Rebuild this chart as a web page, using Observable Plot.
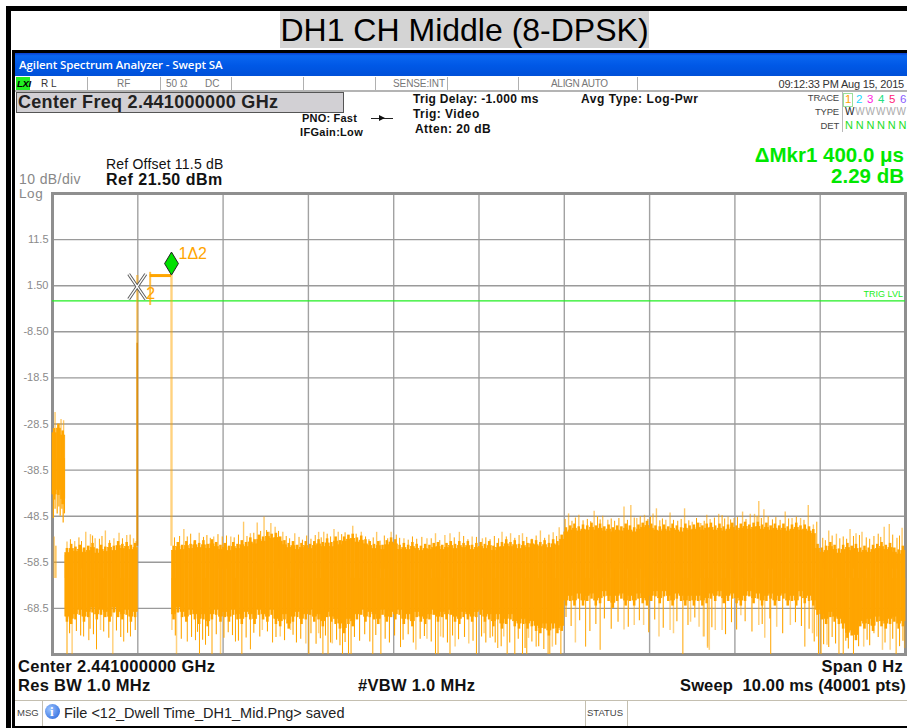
<!DOCTYPE html>
<html>
<head>
<meta charset="utf-8">
<script src="https://cdn.jsdelivr.net/npm/d3@7"></script>
<script src="https://cdn.jsdelivr.net/npm/@observablehq/plot@0.6"></script>
<style>
html,body{margin:0;padding:0;background:#fff;}
#page{position:relative;width:907px;height:728px;overflow:hidden;font-family:"Liberation Sans",Arial,sans-serif;color:#111;}
.b{position:absolute;}
.t{position:absolute;white-space:nowrap;transform:translateY(-50%);line-height:1;}
#page svg{position:absolute;left:0;top:186px;background:transparent;}
</style>
</head>
<body>
<div id="page"></div>
<script>
// ---- Chart values (time in ms, level in dBm) ----
const xGrid = [1,2,3,4,5,6,7,8,9];
const yGrid = [11.5,1.5,-8.5,-18.5,-28.5,-38.5,-48.5,-58.5,-68.5];
const yTickLabels = ["11.5","1.50","-8.50","-18.5","-28.5","-38.5","-48.5","-58.5","-68.5"];
const columnWidth = 0.05;
const envTop = [
-29.5,-28.5,-30,
-55.5,-54.6,-55.2,-54.8,-55.4,-55.0,-54.4,-55.6,-54.8,-55.2,-54.4,-55.0,-54.0,-54.6,-54.2,-54.8,-54.4,
null,null,null,null,null,null,null,null,
-55,-54.2,-54.8,-54,-54.6,-53.8,-54.4,-53.8,-54.6,-53.6,-54.2,-54.8,
-54.4,-55,-54.2,-54.6,-53.8,-54.2,-53.2,-53.6,-52.6,-53,
-52,-52.4,-52.2,-53,-53.8,-54.4,-54,-54.8,-54.4,-54,
-54.6,-54,-53.6,-54.2,-53.4,-54.2,-53,-53.8,-53,-52.6,
-52.4,-53.2,-52.8,-53.6,-54,-54.6,-54,-54.8,-53.8,-53.2,
-53.6,-54.8,-54.4,-54.8,-54.2,-54.6,-55,-54.6,-54.8,-54.4,
-54.2,-54.8,-54.4,-54,-54.6,-54,-54.4,-54,-54.8,-54.4,
-54.2,-54.6,-54,-55,-54.4,-54.2,-53.6,-54.2,-53.8,-54.6,
-54,-54.4,-53.6,-53.8,-54.2,-53.8,-54.4,-53.6,-54,-52.6,
-51,-50.6,-50.2,-50.8,-50.4,-50.6,-50,-50.6,-50.2,-50.8,
-50.4,-51,-50.6,-50.8,-50.2,-50.6,-51,-50.4,-50,-49.6,
-50.2,-50.6,-50.8,-50.4,-50.8,-50.2,-50.6,-51,-50.2,-50.6,
-50.4,-50,-50.6,-50.2,-50,-50.6,-50.2,-50.8,-50.4,-50,
-50.6,-50.2,-49.8,-50.4,-50,-49.8,-50.4,-50,-50.6,-50.2,
-50.6,-50.2,-50.8,-50.4,-50,-50.6,-50.4,-50.8,-51.4,-54.6,
-55.4,-55,-54.2,-54.8,-55.6,-54.8,-54.4,-55,-54.6,-55.4,
-55,-55.4,-54.8,-54.6,-54.2,-54.8,-54.4,-55.4,-55.8,-55];
const envBottom = [
-45,-44,-46,
-71.5,-72,-71,-70,-71.5,-70.5,-69.5,-71,-70,-70.5,-71.5,-69.5,-70.5,-71,-70,-71.5,-70.5,
null,null,null,null,null,null,null,null,
-71,-69.5,-70.5,-71.5,-70,-71,-72,-71,-72.5,-71,-70,-71.5,
-70.5,-71.5,-70,-71,-72,-70.5,-71,-72,-70,-71,
-71.5,-70,-72,-72.5,-71,-73,-71.5,-70.5,-72,-71,
-70,-71.5,-71,-72.5,-70.5,-71.5,-72,-73,-74,-72,
-72.5,-71,-70,-71.5,-70.5,-71,-72,-70,-71.5,-70.5,
-71,-70,-72,-71,-72.5,-70.5,-71.5,-72,-71,-70,
-71.5,-70.5,-71,-70,-71.5,-72,-70.5,-71,-71.5,-70.5,
-70,-71.5,-71,-72.5,-71,-73,-72,-71,-72.5,-73,
-72,-73,-72.5,-73.5,-74,-73,-74.5,-73,-74,-73.5,
-68,-67,-68,-66.5,-68,-67,-66.5,-68,-67.5,-66,
-67,-68.5,-67,-66.5,-68,-67,-68,-66.5,-67.5,-68,
-67,-66,-67.5,-66,-67,-68,-66.5,-67,-68,-67,
-68,-67,-68,-67.5,-66.5,-67,-66,-67.5,-67,-66.5,
-67.5,-68,-67,-66,-67.5,-66.5,-68,-67,-66.5,-68,
-67,-66.5,-68,-67,-68,-66,-67.5,-67,-68,-70,
-71,-72,-70.5,-71.5,-72,-73,-75,-74.5,-75.5,-72.5,
-73,-72,-73.5,-71.5,-72.5,-73,-72,-71.5,-73,-72.5];

const upT = [0.03,0.10,0.13,0.17,0.26,0.39,0.445,0.5,0.62,0.72,0.78,0.87,0.95,1.54,1.66,1.72,1.89,2.09,2.24,2.32,2.40,2.48,2.54,
2.56,2.61,2.70,2.84,3.12,3.18,3.30,3.35,3.47,3.52,3.62,3.80,3.97,4.12,4.39,4.49,4.60,4.66,4.77,4.92,5.04,
5.27,5.37,5.51,5.72,5.87,5.94,6.05,6.17,6.35,6.45,6.51,6.70,6.78,6.85,6.94,7.04,7.08,7.19,7.24,7.41,7.50,7.60,7.71,
7.67,7.81,7.92,7.99,8.09,8.18,8.23,8.28,8.34,8.59,8.67,8.77,8.86,8.92,9.10,9.19,9.35,9.42,9.49,9.75,9.81,9.96];
const upV = [-26,-27.5,-27.8,-54.1,-54,-52,-52.5,-53.4,-51.7,-53.4,-52.2,-52.7,-53.4,-51.4,-54.1,-52.2,-53,-53,-49.8,-52.3,-50,-48.7,-52,
-50.1,-50.9,-52,-52.3,-52,-52,-51.4,-52,-52.7,-50.7,-52,-52,-52,-53.4,-53.4,-52.3,-52.7,-52.3,-52,-53,-53.4,
-52,-52.3,-52.3,-51.7,-52.1,-51,-48,-48.3,-47.4,-48.5,-49.4,-46.5,-46.2,-49,-48.3,-48,-46.9,-49.4,-47.8,-46.9,-49.8,-50.1,-49.2,
-48.3,-48.1,-48.7,-49,-47.6,-48.1,-48.1,-45.3,-47.1,-47.6,-49,-49,-46.2,-50.4,-51.7,-52.4,-51.4,-52.3,-52,-50.9,-50.3,-51.1];
const upMoreT = [0.21,0.31,0.34,0.47,0.55,0.58,0.67,0.82,0.91,0.98,1.43,1.49,1.58,1.62,1.77,1.81,1.85,1.94,1.99,2.04,2.13,2.18,2.28,2.36,2.44,2.51,
2.65,2.74,2.78,2.89,2.93,2.98,3.03,3.08,3.15,3.22,3.26,3.39,3.43,3.56,3.67,3.71,3.76,3.84,3.89,3.93,4.03,4.07,4.17,4.22,4.27,4.33,4.44,4.54,4.71,4.82,4.87,4.97,
5.08,5.13,5.18,5.23,5.32,5.42,5.47,5.56,5.62,5.67,5.77,5.82,5.91,
6.01,6.09,6.13,6.22,6.27,6.31,6.39,6.42,6.55,6.59,6.64,6.74,6.82,6.89,6.98,7.01,7.12,7.15,7.28,7.33,7.37,7.46,7.55,7.64,7.76,7.85,7.88,7.95,
8.03,8.13,8.26,8.31,8.39,8.44,8.48,8.53,8.63,8.72,8.81,8.96,9.03,9.06,9.14,9.23,9.27,9.31,9.39,9.46,9.54,9.58,9.63,9.68,9.71,9.85,9.9,9.93];
const upMoreV = [-53.6,-53.2,-54,-52.8,-53.5,-52.9,-53.8,-53.4,-52.6,-54,-53.2,-52.9,-53,-52.4,-53.1,-52.7,-53.3,-52.5,-53,-52.8,-53.2,-52.6,-52.9,-52.2,-51.8,-51.6,
-51.8,-52.9,-53.4,-53.1,-53.7,-52.8,-53.5,-52.7,-53.2,-52.4,-53,-52.5,-52.1,-52.4,-53,-53.6,-53.2,-53.9,-52.8,-53.4,-52.6,-53.3,-53.7,-53,-53.5,-53.1,-53.4,-53.8,-53.2,-52.9,-53.6,-53.1,
-53.2,-53.6,-52.9,-53.4,-53,-53.3,-52.7,-53.1,-53.5,-52.8,-53.3,-52.6,-52.9,
-49.2,-49.6,-48.9,-49.5,-49.2,-49.7,-48.6,-49.3,-49.1,-49.6,-49,-49.4,-48.9,-48.6,-49.2,-48.7,-49.5,-49.1,-49.4,-49.6,-49.2,-49.5,-49,-49.6,-48.9,-48.4,-49.1,-49.3,-48.8,
-49.2,-48.6,-49,-48.6,-49.3,-48.8,-49.4,-49.1,-48.7,-49.4,-49.8,-53.3,-53.8,-52.8,-53.4,-53,-53.5,-52.9,-52.7,-53.2,-53.5,-52.9,-52.4,-53.1,-52.6,-53.3,-52.8,-53.4];

const downT = [0.17,0.365,0.426,0.516,0.835,0.914,1.58,1.676,1.723,1.794,1.87,2.145,2.22,2.32,2.58,3.005,3.17,3.23,3.40,3.47,3.50,3.755,3.85,4.08,4.49,4.52,4.66,4.97,
5.16,5.22,5.33,5.42,5.51,5.56,5.67,5.81,5.83,5.96,6.25,6.42,7.39,8.42,8.82,8.98,9.01,9.22,9.27,9.39,9.63,9.89,0.04];
const downV = [-78.5,-74.7,-75.5,-77.5,-75.8,-74.7,-75.8,-75.5,-78.5,-76.5,-78.5,-75.8,-78.5,-77.5,-76,-78.5,-78.5,-78.5,-78.5,-78.5,-78.5,-78.5,-78.5,-77,-78.5,-78.5,-78.5,-78.5,
-74.7,-77.2,-78.5,-78.5,-78.5,-78.5,-76.9,-78.5,-78.5,-78.5,-76.9,-77.6,-78.5,-78.5,-76.9,-78.5,-78.5,-78.5,-78.5,-78.5,-74,-78.5,-55];
const downMoreT = [0.2,0.28,0.33,0.44,0.48,0.6,0.66,0.75,0.8,0.88,0.97,1.44,1.51,1.63,1.7,1.76,1.83,1.92,2.01,2.06,2.11,2.18,2.27,2.36,2.43,2.52,
2.62,2.72,2.82,2.86,2.91,3.03,3.09,3.14,3.2,3.26,3.33,3.37,3.43,3.54,3.6,3.66,3.72,3.79,3.9,3.95,4.01,4.11,4.17,4.23,4.31,4.36,4.44,4.58,4.63,4.69,4.76,4.83,4.93,5.03,5.08,
5.13,5.19,5.26,5.36,5.46,5.54,5.62,5.7,5.76,5.9,
6.02,6.08,6.18,6.3,6.37,6.47,6.55,6.63,6.75,6.88,6.99,7.06,7.16,7.32,7.45,7.53,7.73,7.89,7.96,8.02,8.12,8.2,8.32,8.41,8.56,8.71,8.78,8.87,
8.93,9.04,9.1,9.14,9.18,9.3,9.33,9.45,9.55,9.58,9.68,9.76,9.85,9.93,9.97];
const downMoreV = [-74,-73.5,-74.5,-73,-74.2,-73.6,-75,-73.4,-74.8,-73.9,-73.3,-74.5,-75.2,-74.8,-73.7,-75.4,-74.6,-74.2,-75,-73.8,-74.4,-75.6,-74.9,-73.9,-74.7,-73.6,
-74.8,-75.5,-74.3,-76,-75.2,-74,-76.3,-75.1,-74.5,-76,-75.4,-76.6,-75.9,-74.8,-75.6,-74.2,-75.8,-74.4,-75.2,-76,-74.5,-75.4,-74.2,-76,-75.2,-74.6,-75.8,-74.9,-76,-74.5,-75.3,-74.8,-75.6,-74.7,-76,
-75,-76,-76.8,-76,-75.2,-77.2,-75.8,-76.8,-77.4,-76.5,
-70.5,-72.4,-71.2,-73.5,-72,-70.8,-73,-71.5,-72.6,-71.2,-73.8,-71,-72.8,-71.4,-72.2,-70.6,-72.7,-74.2,-71.6,-73.2,-71.4,-73.6,-72,-70.8,-74,-71.6,-72.4,-73,
-75.8,-76.4,-77,-74.8,-76.2,-75.6,-77.3,-76.8,-75.4,-76.6,-74.8,-76,-75.2,-76.8,-75.6];
const fadedT = [0.02,0.15,0.23,0.563,0.707,1.40,1.454,1.97,2.46,2.67,2.79,2.97,3.12,3.28,4.26,4.39,4.55,4.72,4.88,5.06,
5.29,5.58,5.86,5.94,6.13,6.70,6.82,6.93,7.11,7.24,7.28,7.64,7.68,7.48,7.58,7.63,7.68,7.70,7.77,7.85,8.07,8.28,8.35,8.49,8.65,8.91,8.96,9.08,9.51,9.73,9.82,9.99];
const fadedV = [-53,-57,-78.5,-73.3,-78.5,-73.3,-78.5,-78.5,-73.3,-74.7,-73.3,-76.2,-74,-76.2,-77.6,-75.2,-74.7,-76.9,-76.2,-74,
-74.7,-75,-76.9,-73.3,-76,-73.2,-72.2,-72.2,-74.7,-73.3,-74,-74.7,-76.9,-71.5,-72.6,-74.7,-77.2,-77.6,-73.3,-73.3,-70.1,-72.2,-75,-72.6,-72.2,-74,-74.7,-76.5,-76.9,-77.6,-77.6,-77.2];
const burstFingerT = [0.01,0.03,0.055,0.075,0.09,0.11,0.125,0.14];
const burstFingerV = [-49,-47,-48,-46.5,-48.5,-47,-50,-48];

const carrierT = [0.993, 1.395];
const carrierTop = 3.7;
const carrierLeftKnee = -11;
const carrierBase = -55;
const trigLevel = -1.8;
const marker1 = {t: 1.395, v: 6.3};
const marker2 = {t: 0.993, v: 1.3};
const marker2Arm = {t: 0.1, v: 2.7};
const deltaBar = {t1: 1.145, t2: 1.395, v: 3.7};
const deltaTick = {t: 1.145, v1: 4.4, v2: -2.8};

const ORANGE = "#ffa500";
const GREEN = "#22ee22";
const FONT = '"Liberation Sans",Arial,sans-serif';

const columns = d3.range(envTop.length).filter(i => envTop[i] != null);
const tall = (t, v) => t.map((x, i) => ({t: x, v: v[i]}));
const ups = tall(upT, upV), upsMore = tall(upMoreT, upMoreV);
const downs = tall(downT, downV), downsMore = tall(downMoreT, downMoreV), fades = tall(fadedT, fadedV);
const fingers = tall(burstFingerT, burstFingerV);
const base = d => d.t < 0.15 ? -36 : -62;
const coreTop = i => envTop[i] - 1, coreBottom = i => envBottom[i] + 1.2;

const diamond = {draw(c, size) { const w = Math.sqrt(size) * 0.6, h = Math.sqrt(size); c.moveTo(0,-h); c.lineTo(w,0); c.lineTo(0,h); c.lineTo(-w,0); c.closePath(); }};
const crossArms = [
  {x1: marker2.t - marker2Arm.t, y1: marker2.v + marker2Arm.v, x2: marker2.t + marker2Arm.t, y2: marker2.v - marker2Arm.v},
  {x1: marker2.t - marker2Arm.t, y1: marker2.v - marker2Arm.v, x2: marker2.t + marker2Arm.t, y2: marker2.v + marker2Arm.v}
];

const chart = Plot.plot({
  width: 907, height: 474,
  marginLeft: 52, marginRight: 2, marginTop: 7, marginBottom: 6,
  style: {fontFamily: FONT, background: "transparent"},
  x: {domain: [0, 10], axis: null},
  y: {domain: [-78.5, 21.5], axis: null},
  marks: [
    Plot.ruleX(xGrid, {stroke: "#a2a2a2", strokeWidth: 1.4}),
    Plot.ruleY(yGrid, {stroke: "#9a9a9a", strokeWidth: 1.4}),
    Plot.frame({stroke: "#8f8f8f", strokeWidth: 3}),
    Plot.axisY(yGrid, {tickSize: 0, tickPadding: 4, label: null, fontSize: 11, fill: "#8a8a8a", tickFormat: (d, i) => yTickLabels[i]}),

    Plot.ruleY([trigLevel], {stroke: GREEN, strokeWidth: 1.2}),
    Plot.text(["TRIG LVL"], {x: () => 9.97, y: () => -0.4, textAnchor: "end", fontSize: 9, fill: GREEN}),

    Plot.rect(columns, {x1: i => i * columnWidth, x2: i => (i + 1) * columnWidth, y1: coreTop, y2: coreBottom, fill: ORANGE, stroke: ORANGE, strokeWidth: 0.6}),
    Plot.rect(columns, {x1: i => (i + 0.2) * columnWidth, x2: i => (i + 0.8) * columnWidth, y1: i => envTop[i], y2: i => envBottom[i], fill: ORANGE}),
    Plot.ruleX(ups, {x: "t", y1: "v", y2: base, stroke: ORANGE, strokeOpacity: 0.6, strokeWidth: 1.4}),
    Plot.ruleX(upsMore, {x: "t", y1: "v", y2: -60, stroke: ORANGE, strokeWidth: 1}),
    Plot.ruleX(fingers, {x: "t", y1: "v", y2: -36, stroke: ORANGE, strokeWidth: 1.2}),
    Plot.ruleX(fades, {x: "t", y1: "v", y2: -62, stroke: ORANGE, strokeOpacity: 0.5, strokeWidth: 1.5}),
    Plot.ruleX(downs, {x: "t", y1: "v", y2: -62, stroke: ORANGE, strokeWidth: 1}),
    Plot.ruleX(downsMore, {x: "t", y1: "v", y2: -62, stroke: ORANGE, strokeWidth: 1.1}),

    Plot.ruleX(carrierT, {y1: carrierTop, y2: carrierBase, stroke: ORANGE, strokeOpacity: 0.5, strokeWidth: 2.4}),
    Plot.ruleX([carrierT[0]], {y1: carrierLeftKnee, y2: carrierBase, stroke: "#d98c10", strokeWidth: 1.4}),

    Plot.ruleY([deltaBar], {x1: "t1", x2: "t2", y: "v", stroke: ORANGE, strokeWidth: 3}),
    Plot.ruleX([deltaTick], {x: "t", y1: "v1", y2: "v2", stroke: ORANGE, strokeOpacity: 0.7, strokeWidth: 2}),
    Plot.link(crossArms, {x1: "x1", y1: "y1", x2: "x2", y2: "y2", stroke: "#555", strokeWidth: 3.2}),
    Plot.link(crossArms, {x1: "x1", y1: "y1", x2: "x2", y2: "y2", stroke: "#fff", strokeWidth: 1.4}),
    Plot.text(["2"], {x: () => 1.15, y: () => -0.2, fontSize: 16, fill: ORANGE}),
    Plot.dot([marker1], {x: "t", y: "v", symbol: diamond, r: 6.5, fill: "#00e000", stroke: "#222", strokeWidth: 1}),
    Plot.text(["1Δ2"], {x: () => 1.477, y: () => 8.5, textAnchor: "start", fontSize: 16, fill: ORANGE})
  ]
});

// ---- Instrument chrome around the chart ----
const page = document.getElementById("page");
function box(l, t, w, h, bg, extra) { const d = document.createElement("div"); d.className = "b"; d.style.cssText = `left:${l}px;top:${t}px;width:${w}px;height:${h}px;background:${bg};${extra||""}`; page.appendChild(d); return d; }
function txt(s, x, y, size, opt = {}) {
  const d = document.createElement("div"); d.className = "t"; d.textContent = s;
  d.style.cssText = (opt.right ? `right:${907 - x}px;` : `left:${x}px;`) + `top:${y}px;font-size:${size}px;` + (opt.css || "");
  page.appendChild(d); return d;
}
const BOLD = "font-weight:bold;";
box(6, 6, 901, 5, "#000");
box(6, 6, 5, 722, "#000");
box(12, 50, 895, 3, "#000");
box(12, 50, 3, 678, "#000");
box(12, 726, 895, 2, "#000");
box(280, 11, 369, 37, "#d4d4d4");
txt("DH1 CH Middle (8-DPSK)", 464.5, 30, 32, {css: "transform:translate(-50%,-50%);color:#000;"});

box(15, 53, 892, 23, "linear-gradient(#0a3fd0 0,#0a66f0 12%,#0058e6 55%,#0050d8 100%)");
txt("Agilent Spectrum Analyzer - Swept SA", 19, 65, 11.5, {css: 'color:#fff;font-family:"Open Sans",sans-serif;font-weight:600;letter-spacing:-0.1px;'});

box(15, 90, 892, 1.5, "#b4b4b4");
[87,160,231,303,375,447,518,637].forEach(x => box(x, 77, 1, 13, "#b0b0b0"));
box(16, 77, 14, 13, "#22ee22");
txt("LXI", 17, 84, 9.5, {css: BOLD + "font-style:italic;color:#000;letter-spacing:-0.3px;"});
const grayS = "color:#777;";
txt("R L", 41, 84, 10, {css: "color:#333;"});
txt("RF", 117, 84, 10, {css: grayS});
txt("50 Ω", 166, 84, 10, {css: grayS});
txt("DC", 205, 84, 10, {css: grayS});
txt("SENSE:INT", 393, 84, 10, {css: grayS + "letter-spacing:-0.1px;"});
txt("ALIGN AUTO", 551, 84, 10, {css: grayS + "letter-spacing:-0.3px;"});
txt("09:12:33 PM Aug 15, 2015", 904, 84, 11, {right: true, css: "color:#333;letter-spacing:-0.2px;"});

box(16, 92, 326, 19, "#d2d0d4", "border:1px solid #555;");
txt("Center Freq 2.441000000 GHz", 18, 102, 18, {css: BOLD + "color:#222;letter-spacing:0.3px;"});
txt("PNO: Fast", 357, 118, 11, {right: true, css: BOLD + "letter-spacing:0.2px;"});
txt("IFGain:Low", 363, 132, 11, {right: true, css: BOLD + "letter-spacing:0.3px;"});
box(371, 118, 22, 1, "#222");
box(379, 115, 0, 0, "transparent", "border-left:6px solid #111;border-top:3px solid transparent;border-bottom:3px solid transparent;");
txt("Trig Delay: -1.000 ms", 413, 99, 12, {css: BOLD + "letter-spacing:0.3px;"});
txt("Trig: Video", 413, 114, 12, {css: BOLD + "letter-spacing:0.45px;"});
txt("Atten: 20 dB", 415, 129, 12, {css: BOLD + "letter-spacing:0.45px;"});
txt("Avg Type: Log-Pwr", 581, 99, 12, {css: BOLD + "letter-spacing:0.55px;"});

const smallG = "color:#444;letter-spacing:-0.2px;";
txt("TRACE", 839, 98, 9.5, {right: true, css: smallG});
txt("TYPE", 839, 112, 9.5, {right: true, css: smallG});
txt("DET", 839, 126, 9.5, {right: true, css: smallG});
box(842, 92, 1, 40, "#b8b8b8");
box(843, 93, 10, 14, "#fff", "border:1px solid #9be09b;box-sizing:border-box;");
const traceColours = ["#ffa500","#22d8ff","#ff22e0","#22e080","#ff2277","#8a5cff"];
["1","2","3","4","5","6"].forEach((n, i) => {
  txt(n, 845 + i * 11, 100, 11.5, {css: `color:${traceColours[i]};`});
  txt("N", 845 + i * 10.7, 125, 11, {css: "color:#22dd22;"});
  txt("W", 845 + i * 10.3, 112, 10, {css: i === 0 ? "color:#222;" : "color:#aaa;"});
});

txt("Ref Offset 11.5 dB", 106, 164, 14, {css: "color:#111;letter-spacing:0.2px;"});
txt("Ref 21.50 dBm", 106, 180, 16, {css: BOLD + "letter-spacing:0.5px;"});
txt("10 dB/div", 19, 178.5, 14, {css: "color:#888;letter-spacing:0.4px;"});
txt("Log", 19, 193.5, 13.5, {css: "color:#888;letter-spacing:0.6px;"});
txt("ΔMkr1 400.0 μs", 904, 154.5, 20.5, {right: true, css: BOLD + "color:#00e800;"});
txt("2.29 dB", 904, 175.5, 20.5, {right: true, css: BOLD + "color:#00e800;"});

const foot = BOLD + "letter-spacing:0.3px;";
txt("Center 2.441000000 GHz", 18, 666, 16.5, {css: foot});
txt("Res BW 1.0 MHz", 18, 685, 16.5, {css: foot});
txt("#VBW 1.0 MHz", 358, 685, 16.5, {css: foot});
txt("Span 0 Hz", 903, 666, 16.5, {right: true, css: foot});
txt("Sweep  10.00 ms (40001 pts)", 906, 685, 16.5, {right: true, css: BOLD + "letter-spacing:0.15px;white-space:pre;"});

box(15, 700, 892, 1, "#c4bfb0");
[42,585,627].forEach(x => box(x, 701, 1, 25, "#c4bfb0"));
txt("MSG", 17, 713, 9.5, {css: "color:#444;"});
box(45, 704, 15, 15, "radial-gradient(circle at 35% 35%,#9cc4ff,#1f5fd8)", "border-radius:50%;");
txt("i", 50, 711, 13, {css: BOLD + "color:#fff;font-family:'Liberation Serif',serif;"});
txt("File <12_Dwell Time_DH1_Mid.Png> saved", 64, 713, 14.5, {css: "color:#222;"});
txt("STATUS", 587, 713, 9.5, {css: "color:#444;"});

page.appendChild(chart);
</script>
</body>
</html>
